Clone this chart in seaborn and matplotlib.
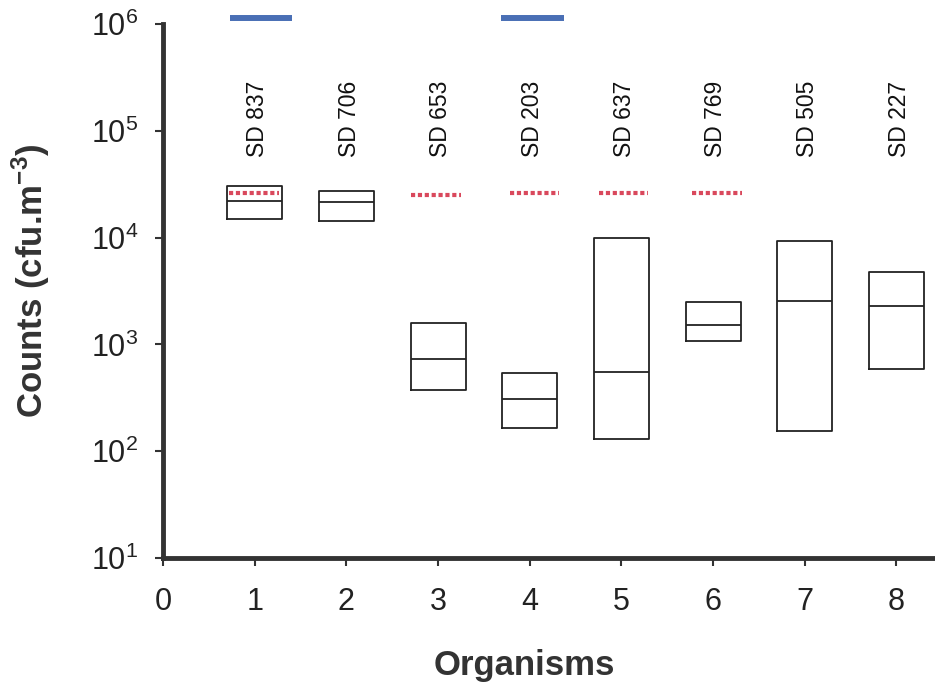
import numpy as np
import pandas as pd
import matplotlib
matplotlib.use('Agg')
import matplotlib.pyplot as plt
import seaborn as sns
from matplotlib.ticker import NullLocator

# Range of counts per organism (low / median / high)
organism = [1, 2, 3, 4, 5, 6, 7, 8]
strain = ['SD 837', 'SD 706', 'SD 653', 'SD 203', 'SD 637', 'SD 769', 'SD 505', 'SD 227']
low = [14800, 14200, 372, 165, 129, 1083, 153, 585]
median = [21900, 21400, 730, 306, 552, 1520, 2550, 2305]
high = [30600, 27300, 1575, 540, 10000, 2495, 9230, 4800]

# Dotted red levels and solid blue levels above some organisms
red_x = [0.99, 2.98, 4.05, 5.02, 6.04]
red_y = [26300, 24900, 26300, 26000, 26000]
blue_x = [1.07, 4.03]
blue_y = [1.13e6, 1.13e6]

x_ticks = [0, 1, 2, 3, 4, 5, 6, 7, 8]
y_ticks = [1e1, 1e2, 1e3, 1e4, 1e5, 1e6]


def plot_counts():
    sns.set_style('ticks')
    plt.rcParams['font.family'] = ['Liberation Sans', 'DejaVu Sans']
    plt.rcParams['mathtext.fontset'] = 'custom'
    plt.rcParams['mathtext.rm'] = 'Liberation Sans'
    plt.rcParams['mathtext.bf'] = 'Liberation Sans:bold'

    fig = plt.figure(figsize=(9.35, 6.9), dpi=100)
    ax = fig.add_axes([163 / 935, 1 - 558 / 690, 772 / 935, 534 / 690])

    # each box: quartiles at low/high, median in between
    df = pd.DataFrame({
        'organism': np.repeat(organism, 5),
        'count': np.column_stack([low, low, median, high, high]).ravel(),
    })
    sns.boxplot(data=df, x='organism', y='count', native_scale=True,
                log_scale=(False, True), width=0.6, whis=0,
                showcaps=False, showfliers=False, fill=False,
                color='#222222', linewidth=1.3, ax=ax)

    ax.hlines(red_y, np.array(red_x) - 0.27, np.array(red_x) + 0.27,
              colors='#d9485c', linewidth=3.0, linestyles=(0, (1.0, 0.65)),
              capstyle='butt')
    ax.hlines(blue_y, np.array(blue_x) - 0.34, np.array(blue_x) + 0.34,
              colors='#4a6fb5', linewidth=4.3, clip_on=False)

    for x, s in zip(organism, strain):
        ax.text(x + 0.03, 5.7e4, s, rotation=90, ha='center', va='bottom',
                fontsize=16.5, color='#111111')

    ax.set_xlim(0, 8.42)
    ax.set_ylim(1e1, 1e6)
    ax.set_xticks(x_ticks)
    ax.set_xticklabels([str(t) for t in x_ticks])
    ax.set_yticks(y_ticks)
    ax.yaxis.set_minor_locator(NullLocator())

    for side in ['top', 'right']:
        ax.spines[side].set_visible(False)
    for side in ['left', 'bottom']:
        ax.spines[side].set_linewidth(3.5)
        ax.spines[side].set_color('#333333')
    ax.tick_params(axis='both', direction='out', length=6, width=1.5,
                   color='#333333', labelsize=22, labelcolor='#222222')
    ax.tick_params(axis='y', pad=12)
    ax.tick_params(axis='x', pad=15)

    ax.set_xlabel('Organisms', fontsize=25, fontweight='bold', color='#333333',
                  va='center')
    ax.set_ylabel(r'Counts (cfu.m$^{\mathbf{-3}}$)', fontsize=25,
                  fontweight='bold', color='#333333', va='center')
    ax.xaxis.set_label_coords(0.4676, -0.202)
    ax.yaxis.set_label_coords(-0.171, 0.52)

    fig.savefig('out.png', dpi=100)
    plt.close(fig)


if __name__ == "__main__":
    plot_counts()
